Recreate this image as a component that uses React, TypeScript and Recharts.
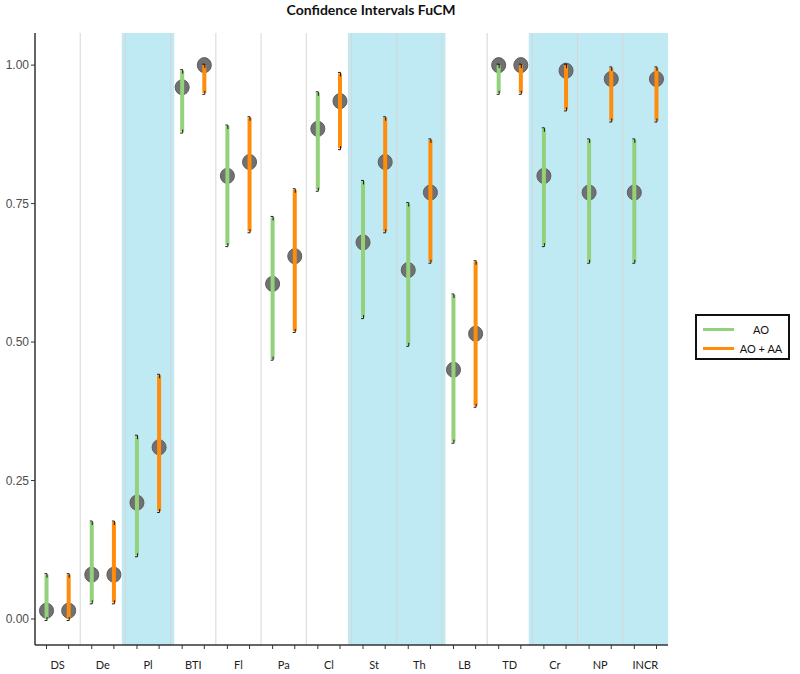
import { ScatterChart, Scatter, XAxis, YAxis, ErrorBar, ReferenceArea, ReferenceLine } from 'recharts';

const categories = ['DS', 'De', 'Pl', 'BTI', 'Fl', 'Pa', 'Cl', 'St', 'Th', 'LB', 'TD', 'Cr', 'NP', 'INCR'];

// AO
const aoMean = [0.015, 0.08, 0.21, 0.96, 0.8, 0.605, 0.885, 0.68, 0.63, 0.45, 1.0, 0.8, 0.77, 0.77];
const aoLow = [0.0, 0.03, 0.115, 0.88, 0.675, 0.47, 0.775, 0.545, 0.495, 0.32, 0.95, 0.675, 0.645, 0.645];
const aoHigh = [0.08, 0.175, 0.33, 0.99, 0.89, 0.725, 0.95, 0.79, 0.75, 0.585, 1.0, 0.885, 0.865, 0.865];

// AO + AA
const aaMean = [0.015, 0.08, 0.31, 1.0, 0.825, 0.655, 0.935, 0.825, 0.77, 0.515, 1.0, 0.99, 0.975, 0.975];
const aaLow = [0.0, 0.03, 0.195, 0.95, 0.7, 0.52, 0.85, 0.7, 0.645, 0.385, 0.95, 0.92, 0.9, 0.9];
const aaHigh = [0.08, 0.175, 0.44, 1.0, 0.905, 0.775, 0.985, 0.905, 0.865, 0.645, 1.0, 1.0, 0.995, 0.995];

const shadedGroups = [
	['Pl', 'Pl'],
	['St', 'Th'],
	['Cr', 'INCR'],
];

const yTicks = [0, 0.25, 0.5, 0.75, 1];

const GREEN = '#93d17b';
const ORANGE = '#ff8c0a';
const SHIFT = 0.245;

const WIDTH = 800;
const HEIGHT = 674;
const MARGIN = { top: 33, right: 132, bottom: 0, left: 0 };
const Y_AXIS_W = 35;
const plotWidth = WIDTH - MARGIN.left - MARGIN.right - Y_AXIS_W;
const halfGapPx = (SHIFT * plotWidth) / categories.length;

const pos = (c: string) => categories.indexOf(c) + 1;

function buildSeries(mean: number[], low: number[], high: number[], shift: number) {
	return categories.map((c, i) => ({
		name: c,
		x: i + 1 + shift,
		y: mean[i],
		err: [mean[i] - low[i], high[i] - mean[i]],
	}));
}

function buildCaps(low: number[], high: number[], shift: number) {
	return categories.flatMap((c, i) => [
		{ name: c, x: i + 1 + shift, y: low[i], end: 'low' },
		{ name: c, x: i + 1 + shift, y: high[i], end: 'high' },
	]);
}

const aoData = buildSeries(aoMean, aoLow, aoHigh, -SHIFT);
const aaData = buildSeries(aaMean, aaLow, aaHigh, SHIFT);
const capData = [...buildCaps(aoLow, aoHigh, -SHIFT), ...buildCaps(aaLow, aaHigh, SHIFT)];

const xTicks = categories.flatMap((_, i) => [i + 1 - SHIFT, i + 1 + SHIFT]);
const separators = categories.slice(1).map((_, i) => i + 1.5);

const PointShape = (props: any) => (
	<ellipse cx={props.cx} cy={props.cy} rx={7} ry={7.5} fill="#717171" stroke="#5e5e5e" strokeWidth={1} />
);

const NoShape = () => <g />;

// small black hook marking each interval end
const CapShape = (props: any) => {
	const { cx, cy, payload } = props;
	const d =
		payload.end === 'high'
			? `M${cx - 2},${cy - 1} L${cx + 0.5},${cy - 1} L${cx + 0.5},${cy + 3}`
			: `M${cx + 0.5},${cy - 2} L${cx + 0.5},${cy + 1.5} L${cx - 2},${cy + 1.5}`;
	return <path d={d} stroke="#1a1a1a" strokeWidth={1} fill="none" />;
};

const XTick = (props: any) => {
	const { x, y, payload } = props;
	const v = payload.value;
	const center = Math.round(v);
	if (v > center) return <g />;
	return (
		<text
			x={x + halfGapPx}
			y={y + 18}
			textAnchor="middle"
			fontFamily="Lato, sans-serif"
			fontSize={11}
			fill="#222"
		>
			{categories[center - 1]}
		</text>
	);
};

export default function App() {
	return (
		<div style={{ position: 'absolute', left: 0, top: 0, width: WIDTH, height: HEIGHT, background: '#fff' }}>
			<div
				style={{
					position: 'absolute',
					top: 1,
					left: 371,
					transform: 'translateX(-50%)',
					fontFamily: 'Lato, sans-serif',
					fontWeight: 700,
					fontSize: 14,
					color: '#111',
					whiteSpace: 'nowrap',
				}}
			>
				Confidence Intervals FuCM
			</div>
			<ScatterChart width={WIDTH} height={HEIGHT} margin={MARGIN}>
				{shadedGroups.map(([a, b]) => (
					<ReferenceArea
						key={a}
						x1={pos(a) - 0.58}
						x2={pos(b) + 0.58}
						fill="#bfe9f3"
						fillOpacity={1}
						stroke="none"
						ifOverflow="hidden"
					/>
				))}
				{separators.map((s) => (
					<ReferenceLine key={s} x={s} stroke="#d6d6d6" strokeWidth={1} />
				))}
				<XAxis
					type="number"
					dataKey="x"
					domain={[0.5, categories.length + 0.5]}
					ticks={xTicks}
					interval={0}
					height={29}
					tick={<XTick />}
					tickSize={4}
					axisLine={{ stroke: '#333', strokeWidth: 1.5 }}
					tickLine={{ stroke: '#333' }}
					allowDataOverflow
				/>
				<YAxis
					type="number"
					dataKey="y"
					domain={[-0.047, 1.058]}
					ticks={yTicks}
					width={Y_AXIS_W}
					tickFormatter={(v: number) => v.toFixed(2)}
					tick={{ fill: '#4d4d4d', fontSize: 12, fontFamily: '"Liberation Sans", Arial, sans-serif' }}
					tickSize={4}
					axisLine={{ stroke: '#333', strokeWidth: 1.5 }}
					tickLine={{ stroke: '#333' }}
					allowDataOverflow
				/>
				<Scatter data={aoData} shape={<PointShape />} isAnimationActive={false} zIndex={500} />
				<Scatter data={aaData} shape={<PointShape />} isAnimationActive={false} zIndex={500} />
				<Scatter data={aoData} shape={<NoShape />} isAnimationActive={false} zIndex={700}>
					<ErrorBar dataKey="err" direction="y" width={0} stroke={GREEN} strokeWidth={4} zIndex={700} />
				</Scatter>
				<Scatter data={aaData} shape={<NoShape />} isAnimationActive={false} zIndex={700}>
					<ErrorBar dataKey="err" direction="y" width={0} stroke={ORANGE} strokeWidth={4} zIndex={700} />
				</Scatter>
				<Scatter data={capData} shape={<CapShape />} isAnimationActive={false} zIndex={800} />
			</ScatterChart>
			<div
				style={{
					position: 'absolute',
					left: 695,
					top: 314,
					width: 91,
					height: 42,
					border: '2px solid #111',
					fontFamily: 'Lato, sans-serif',
					fontSize: 11,
					color: '#111',
				}}
			>
				{[
					{ label: 'AO', color: GREEN },
					{ label: 'AO + AA', color: ORANGE },
				].map((item, i) => (
					<div
						key={item.label}
						style={{ position: 'absolute', left: 0, top: 6 + i * 19, width: 91, height: 14, display: 'flex', alignItems: 'center' }}
					>
						<span style={{ marginLeft: 6, width: 31, height: 3, background: item.color, display: 'inline-block' }} />
						<span style={{ flex: 1, textAlign: 'center' }}>{item.label}</span>
					</div>
				))}
			</div>
		</div>
	);
}
